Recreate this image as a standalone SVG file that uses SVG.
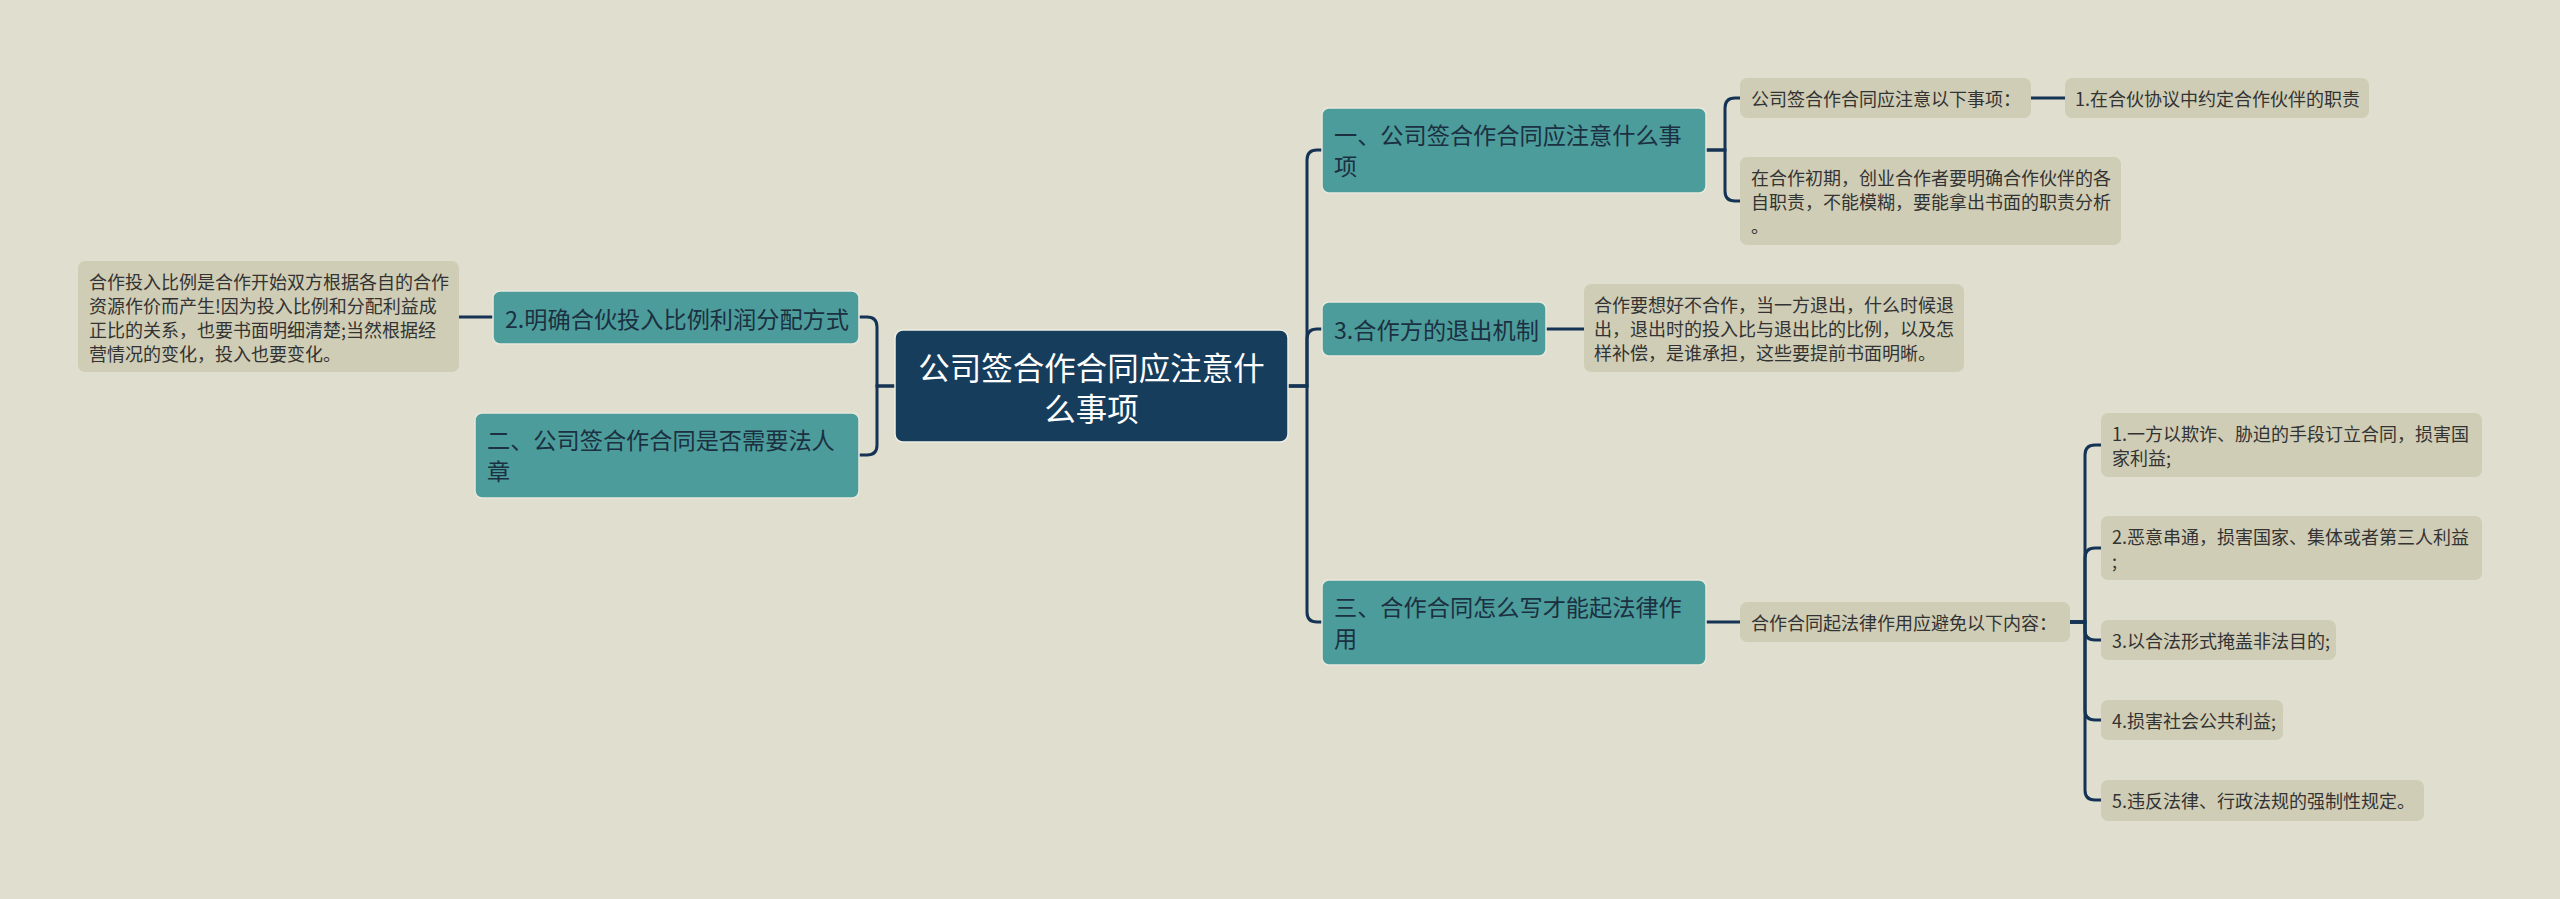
<svg xmlns="http://www.w3.org/2000/svg" width="2560" height="899" viewBox="0 0 2560 899">
<style>
.bg{fill:#e0dfcf}
.c{fill:none;stroke:#153455;stroke-width:3}
.root rect{fill:#173d5d;stroke:#eeeee4;stroke-width:1.5}
.root text{fill:#ffffff;font-size:31.5px;text-anchor:middle}
.main rect{fill:#4d9c9c;stroke:#e8e8dc;stroke-width:1.5}
.main text{fill:#1b3040;font-size:23.2px}
.leaf rect{fill:#cfcdb5}
.leaf text{fill:#333333;font-size:18px}
text{font-family:"Noto Sans CJK SC","Noto Sans",sans-serif;dominant-baseline:central}
</style>
<rect class="bg" x="0" y="0" width="2560" height="899"/>
<g id="connectors">
<path class="c" d="M1288,386 H1307 V160 Q1307,150 1317,150 H1322"/>
<path class="c" d="M1288,386 H1307 V339 Q1307,329 1317,329 H1322"/>
<path class="c" d="M1288,386 H1307 V612 Q1307,622 1317,622 H1322"/>
<path class="c" d="M895,386 H877 V327 Q877,317 867,317 H859"/>
<path class="c" d="M895,386 H877 V445 Q877,455 867,455 H859"/>
<path class="c" d="M1706,150 H1725 V108 Q1725,98 1735,98 H1740"/>
<path class="c" d="M1706,150 H1725 V191 Q1725,201 1735,201 H1740"/>
<path class="c" d="M2031,98 H2065"/>
<path class="c" d="M1546,329 H1584"/>
<path class="c" d="M459,317 H493"/>
<path class="c" d="M1706,622 H1740"/>
<path class="c" d="M2070,622 H2085 V455 Q2085,445 2095,445 H2101"/>
<path class="c" d="M2070,622 H2085 V558 Q2085,548 2095,548 H2101"/>
<path class="c" d="M2070,622 H2085 V630 Q2085,640 2095,640 H2101"/>
<path class="c" d="M2070,622 H2085 V710 Q2085,720 2095,720 H2101"/>
<path class="c" d="M2070,622 H2085 V790 Q2085,800 2095,800 H2101"/>
</g>
<g id="root" class="root">
<rect x="895" y="330" width="393" height="112" rx="8"/>
<text x="1091.5" y="366">公司签合作合同应注意什</text>
<text x="1091.5" y="407">么事项</text>
</g>
<g id="n-left1" class="main">
<rect x="493" y="291" width="366" height="53" rx="7"/>
<text x="505" y="318">2.明确合伙投入比例利润分配方式</text>
</g>
<g id="n-left2" class="main">
<rect x="475" y="413" width="384" height="85" rx="7"/>
<text x="487" y="439">二、公司签合作合同是否需要法人</text>
<text x="487" y="470">章</text>
</g>
<g id="n-r1" class="main">
<rect x="1322" y="108" width="384" height="85" rx="7"/>
<text x="1334" y="134">一、公司签合作合同应注意什么事</text>
<text x="1334" y="165">项</text>
</g>
<g id="n-r2" class="main">
<rect x="1322" y="302" width="224" height="54" rx="7"/>
<text x="1334" y="329">3.合作方的退出机制</text>
</g>
<g id="n-r3" class="main">
<rect x="1322" y="580" width="384" height="85" rx="7"/>
<text x="1334" y="606">三、合作合同怎么写才能起法律作</text>
<text x="1334" y="637">用</text>
</g>
<g id="l-left" class="leaf">
<rect x="78" y="261" width="381" height="111" rx="7"/>
<text x="89" y="281">合作投入比例是合作开始双方根据各自的合作</text>
<text x="89" y="305">资源作价而产生!因为投入比例和分配利益成</text>
<text x="89" y="329">正比的关系，也要书面明细清楚;当然根据经</text>
<text x="89" y="353">营情况的变化，投入也要变化。</text>
</g>
<g id="l-a" class="leaf">
<rect x="1740" y="78" width="291" height="40" rx="7"/>
<text x="1751" y="98">公司签合作合同应注意以下事项：</text>
</g>
<g id="l-b" class="leaf">
<rect x="2065" y="78" width="304" height="40" rx="7"/>
<text x="2075" y="98">1.在合伙协议中约定合作伙伴的职责</text>
</g>
<g id="l-c" class="leaf">
<rect x="1740" y="157" width="381" height="88" rx="7"/>
<text x="1751" y="177">在合作初期，创业合作者要明确合作伙伴的各</text>
<text x="1751" y="201">自职责，不能模糊，要能拿出书面的职责分析</text>
<text x="1751" y="225">。</text>
</g>
<g id="l-exit" class="leaf">
<rect x="1584" y="284" width="380" height="88" rx="7"/>
<text x="1594" y="304">合作要想好不合作，当一方退出，什么时候退</text>
<text x="1594" y="328">出，退出时的投入比与退出比的比例，以及怎</text>
<text x="1594" y="352">样补偿，是谁承担，这些要提前书面明晰。</text>
</g>
<g id="l-d" class="leaf">
<rect x="1740" y="602" width="330" height="40" rx="7"/>
<text x="1751" y="622">合作合同起法律作用应避免以下内容：</text>
</g>
<g id="i1" class="leaf">
<rect x="2101" y="413" width="381" height="64" rx="7"/>
<text x="2112" y="433">1.一方以欺诈、胁迫的手段订立合同，损害国</text>
<text x="2112" y="457">家利益;</text>
</g>
<g id="i2" class="leaf">
<rect x="2101" y="516" width="381" height="64" rx="7"/>
<text x="2112" y="536">2.恶意串通，损害国家、集体或者第三人利益</text>
<text x="2112" y="560">;</text>
</g>
<g id="i3" class="leaf">
<rect x="2101" y="620" width="235" height="40" rx="7"/>
<text x="2112" y="640">3.以合法形式掩盖非法目的;</text>
</g>
<g id="i4" class="leaf">
<rect x="2101" y="700" width="182" height="40" rx="7"/>
<text x="2112" y="720">4.损害社会公共利益;</text>
</g>
<g id="i5" class="leaf">
<rect x="2101" y="780" width="323" height="41" rx="7"/>
<text x="2112" y="800">5.违反法律、行政法规的强制性规定。</text>
</g>
</svg>
